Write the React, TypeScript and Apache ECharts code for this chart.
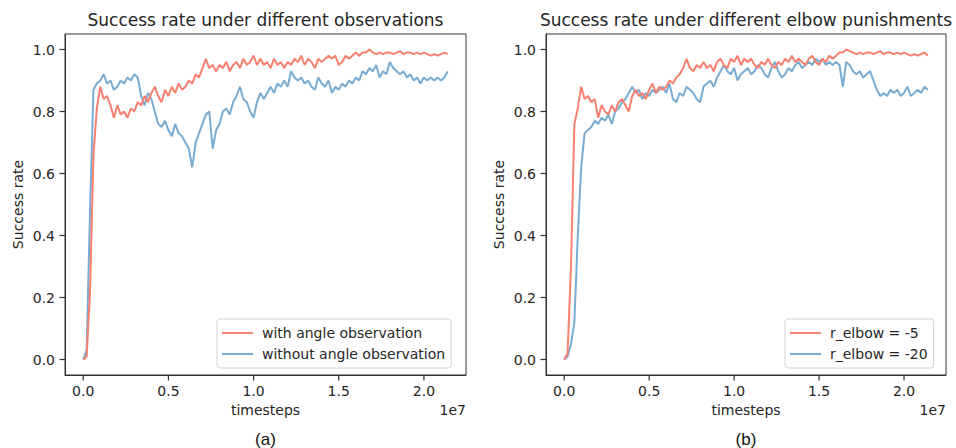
import React, { useEffect, useRef } from "react";
import * as echarts from "echarts";

// x grid: one sample every 0.02e7 timesteps, 0 .. 2.14e7
const timesteps: number[] = Array.from({ length: 108 }, (_, i) => i * 200000);

const withAngle: number[] = [
  0, 0.01, 0.22, 0.66, 0.81, 0.88, 0.84, 0.85, 0.82, 0.78,
  0.82, 0.79, 0.8, 0.78, 0.81, 0.8, 0.83, 0.82, 0.85, 0.83,
  0.86, 0.88, 0.85, 0.83, 0.87, 0.85, 0.88, 0.86, 0.89, 0.87,
  0.88, 0.9, 0.89, 0.92, 0.91, 0.94, 0.97, 0.94, 0.95, 0.93,
  0.95, 0.94, 0.96, 0.93, 0.95, 0.96, 0.94, 0.97, 0.95, 0.96,
  0.98, 0.95, 0.97, 0.95, 0.96, 0.94, 0.97, 0.95, 0.96, 0.94,
  0.96, 0.95, 0.97, 0.96, 0.98, 0.95, 0.97, 0.96, 0.94, 0.97,
  0.96, 0.97, 0.98, 0.97, 0.98, 0.95, 0.96, 0.98, 0.97, 0.98,
  0.99, 0.98, 0.99, 0.99, 1.0, 0.99, 0.985, 0.99, 0.985, 0.99,
  0.99, 0.985, 0.99, 0.995, 0.985, 0.99, 0.99, 0.985, 0.99, 0.985,
  0.99, 0.985, 0.98, 0.985, 0.98, 0.985, 0.99, 0.985,
];

const withoutAngle: number[] = [
  0, 0.03, 0.48, 0.87, 0.89, 0.9, 0.92, 0.89, 0.9, 0.87,
  0.88, 0.9, 0.89, 0.91, 0.9, 0.92, 0.91, 0.85, 0.82, 0.86,
  0.84, 0.8, 0.76, 0.75, 0.77, 0.74, 0.72, 0.76, 0.73, 0.72,
  0.7, 0.68, 0.62, 0.7, 0.73, 0.76, 0.79, 0.8, 0.68, 0.74,
  0.76, 0.8, 0.81, 0.79, 0.83, 0.85, 0.88, 0.84, 0.83, 0.8,
  0.78, 0.83, 0.86, 0.84, 0.86, 0.88, 0.86, 0.89, 0.88, 0.9,
  0.88, 0.93, 0.91, 0.9, 0.91, 0.89, 0.9, 0.88, 0.87, 0.91,
  0.89, 0.88, 0.9, 0.86, 0.88, 0.87, 0.89, 0.88, 0.9, 0.89,
  0.91, 0.9, 0.93, 0.92, 0.94, 0.93, 0.95, 0.91, 0.93, 0.92,
  0.96, 0.94, 0.93, 0.92, 0.93, 0.91, 0.92, 0.9, 0.91, 0.89,
  0.91, 0.9, 0.91, 0.9, 0.91, 0.9, 0.91, 0.93,
];

const elbow5: number[] = [
  0, 0.02, 0.3, 0.76, 0.81, 0.88, 0.84, 0.85, 0.83, 0.84,
  0.78, 0.82, 0.8, 0.79, 0.82, 0.8, 0.83, 0.84, 0.82, 0.8,
  0.85, 0.87, 0.85, 0.86, 0.84, 0.87, 0.89, 0.86, 0.88, 0.87,
  0.88, 0.9, 0.89, 0.91, 0.92, 0.94, 0.97, 0.94, 0.93, 0.95,
  0.94, 0.96, 0.94, 0.95, 0.93, 0.96, 0.97, 0.95, 0.94, 0.97,
  0.96, 0.98, 0.95, 0.97, 0.96, 0.97, 0.95, 0.94, 0.96, 0.95,
  0.97, 0.95, 0.94, 0.96, 0.95, 0.97, 0.96, 0.98, 0.96, 0.97,
  0.96, 0.95, 0.97, 0.98, 0.96, 0.95, 0.97, 0.96, 0.98, 0.97,
  0.98, 0.99, 0.99, 1.0, 0.995, 0.99, 0.985, 0.99, 0.985, 0.99,
  0.99, 0.985, 0.99, 0.995, 0.985, 0.99, 0.99, 0.985, 0.99, 0.985,
  0.99, 0.985, 0.98, 0.985, 0.98, 0.985, 0.99, 0.98,
];

const elbow20: number[] = [
  0, 0.01, 0.05, 0.12, 0.4, 0.62, 0.73, 0.74, 0.75, 0.77,
  0.76, 0.78, 0.77, 0.79, 0.76, 0.8, 0.81, 0.83, 0.84, 0.86,
  0.88, 0.86, 0.87, 0.84, 0.86, 0.85, 0.87, 0.86, 0.87, 0.88,
  0.86, 0.89, 0.84, 0.83, 0.86, 0.85, 0.88, 0.87, 0.86, 0.84,
  0.83, 0.88, 0.89, 0.9, 0.88, 0.91, 0.93, 0.95, 0.93, 0.92,
  0.94, 0.9, 0.92, 0.93, 0.94, 0.92, 0.93, 0.95, 0.94, 0.92,
  0.91, 0.94, 0.96, 0.93, 0.91, 0.92, 0.94, 0.93, 0.95, 0.96,
  0.94, 0.95, 0.96, 0.95, 0.97, 0.96, 0.97, 0.95, 0.96, 0.95,
  0.96, 0.95, 0.88, 0.96, 0.95, 0.93, 0.92, 0.93, 0.91, 0.92,
  0.93, 0.9, 0.87, 0.85, 0.86, 0.85, 0.87, 0.86, 0.87, 0.85,
  0.86, 0.88, 0.85, 0.86, 0.87, 0.86, 0.88, 0.87,
];

const xTicks: number[] = [0, 5000000, 10000000, 15000000, 20000000];
const yTicks: number[] = [0, 0.2, 0.4, 0.6, 0.8, 1.0];

const titles = [
  "Success rate under different observations",
  "Success rate under different elbow punishments",
];
const seriesNames = [
  ["with angle observation", "without angle observation"],
  ["r_elbow = -5", "r_elbow = -20"],
];
const panelLabels = ["(a)", "(b)"];

const RED = "#F8806E";
const BLUE = "#7AACD3";
const TEXT = "#262626";
const FONT = '"DejaVu Sans", sans-serif';
const X_MIN = -1070000;
const X_MAX = 22470000;
const Y_MIN = -0.05;
const Y_MAX = 1.05;
const TICK_LEN = 5.5;

export default function App() {
  const ref = useRef<HTMLDivElement>(null);

  useEffect(() => {
    if (!ref.current) return;
    const chart = echarts.init(ref.current, undefined, { renderer: "svg" });

    const grids = [
      { left: 65, top: 34, width: 401, height: 341 },
      { left: 546, top: 34, width: 400, height: 341 },
    ];

    const mkX = (i: number) => ({
      type: "value",
      gridIndex: i,
      min: X_MIN,
      max: X_MAX,
      axisLine: { show: true, onZero: false, lineStyle: { color: "#333", width: 1 } },
      splitLine: { show: false },
      axisTick: { show: false },
      axisLabel: {
        customValues: xTicks,
        margin: 9,
        color: TEXT,
        fontSize: 14,
        fontFamily: FONT,
        formatter: (v: number) => (v / 1e7).toFixed(1),
      },
      name: "timesteps",
      nameLocation: "middle",
      nameGap: 28,
      nameTextStyle: { color: TEXT, fontSize: 14, fontFamily: FONT },
    });

    const mkY = (i: number) => ({
      type: "value",
      gridIndex: i,
      min: Y_MIN,
      max: Y_MAX,
      axisLine: { show: true, onZero: false, lineStyle: { color: "#333", width: 1 } },
      splitLine: { show: false },
      axisTick: { show: false },
      axisLabel: {
        customValues: yTicks,
        margin: 10,
        color: TEXT,
        fontSize: 14,
        fontFamily: FONT,
        formatter: (v: number) => v.toFixed(1),
      },
      name: "Success rate",
      nameLocation: "middle",
      nameGap: 40,
      nameTextStyle: { color: TEXT, fontSize: 14, fontFamily: FONT },
    });

    const mkSeries = (name: string, data: number[], color: string, i: number) => ({
      type: "line",
      name,
      xAxisIndex: i,
      yAxisIndex: i,
      data: timesteps.map((t, k) => [t, data[k]]),
      showSymbol: false,
      symbol: "none",
      color,
      lineStyle: { color, width: 2 },
      itemStyle: { color },
      z: color === RED ? 3 : 2,
    });

    // outward tick marks, positioned with the axes' own scales (api.coord)
    const mkTicks = (i: number) => ({
      type: "custom",
      name: "ticks" + i,
      xAxisIndex: i,
      yAxisIndex: i,
      silent: true,
      clip: false,
      z: 5,
      data: [
        ...xTicks.map((v) => [v, 0, 0]),
        ...yTicks.map((v) => [0, v, 1]),
      ],
      renderItem: (_p: any, api: any) => {
        const kind = api.value(2);
        if (kind === 0) {
          const p = api.coord([api.value(0), Y_MIN]);
          return {
            type: "line",
            shape: { x1: p[0], y1: p[1], x2: p[0], y2: p[1] + TICK_LEN },
            style: { stroke: "#333", lineWidth: 1.2 },
          };
        }
        const p = api.coord([X_MIN, api.value(1)]);
        return {
          type: "line",
          shape: { x1: p[0] - TICK_LEN, y1: p[1], x2: p[0], y2: p[1] },
          style: { stroke: "#333", lineWidth: 1.2 },
        };
      },
    });

    const legendLefts = [217, 785];

    chart.setOption({
      animation: false,
      backgroundColor: "#ffffff",
      title: titles.map((t, i) => ({
        text: t,
        left: grids[i].left + grids[i].width / 2,
        top: 11,
        textAlign: "center",
        padding: 0,
        textStyle: { color: TEXT, fontSize: 17, fontWeight: "normal", fontFamily: FONT },
      })),
      grid: grids.map((g) => ({ ...g, show: true, borderColor: "#333", borderWidth: 1, backgroundColor: "transparent" })),
      xAxis: [mkX(0), mkX(1)],
      yAxis: [mkY(0), mkY(1)],
      legend: seriesNames.map((names, i) => ({
        data: names,
        orient: "vertical",
        left: legendLefts[i],
        top: 319,
        padding: [7, 6, 7, 5],
        itemGap: 7,
        itemWidth: 31,
        itemHeight: 2,
        icon: "rect",
        borderColor: "#d4d4d4",
        borderWidth: 1,
        borderRadius: 3,
        backgroundColor: "rgba(255,255,255,0.85)",
        textStyle: { color: TEXT, fontSize: 14, fontFamily: FONT, lineHeight: 14, padding: [0, 0, 0, 4] },
      })),
      series: [
        mkSeries(seriesNames[0][1], withoutAngle, BLUE, 0),
        mkSeries(seriesNames[0][0], withAngle, RED, 0),
        mkSeries(seriesNames[1][1], elbow20, BLUE, 1),
        mkSeries(seriesNames[1][0], elbow5, RED, 1),
        mkTicks(0),
        mkTicks(1),
      ],
      graphic: [
        ...grids.map((g) => ({
          type: "text",
          x: g.left + g.width,
          y: 410,
          style: {
            text: "1e7",
            fill: TEXT,
            font: `14px ${FONT}`,
            align: "right",
            verticalAlign: "middle",
            textAlign: "right",
            textVerticalAlign: "middle",
          },
        })),
        ...grids.map((g, i) => ({
          type: "text",
          x: g.left + g.width / 2,
          y: 439,
          style: {
            text: panelLabels[i],
            fill: "#111",
            font: '17px "Liberation Sans", Arial, sans-serif',
            align: "center",
            verticalAlign: "middle",
            textAlign: "center",
            textVerticalAlign: "middle",
          },
        })),
      ],
    });

    return () => chart.dispose();
  }, []);

  return (
    <div
      ref={ref}
      style={{ position: "fixed", left: 0, top: 0, width: 956, height: 448, background: "#fff" }}
    />
  );
}
